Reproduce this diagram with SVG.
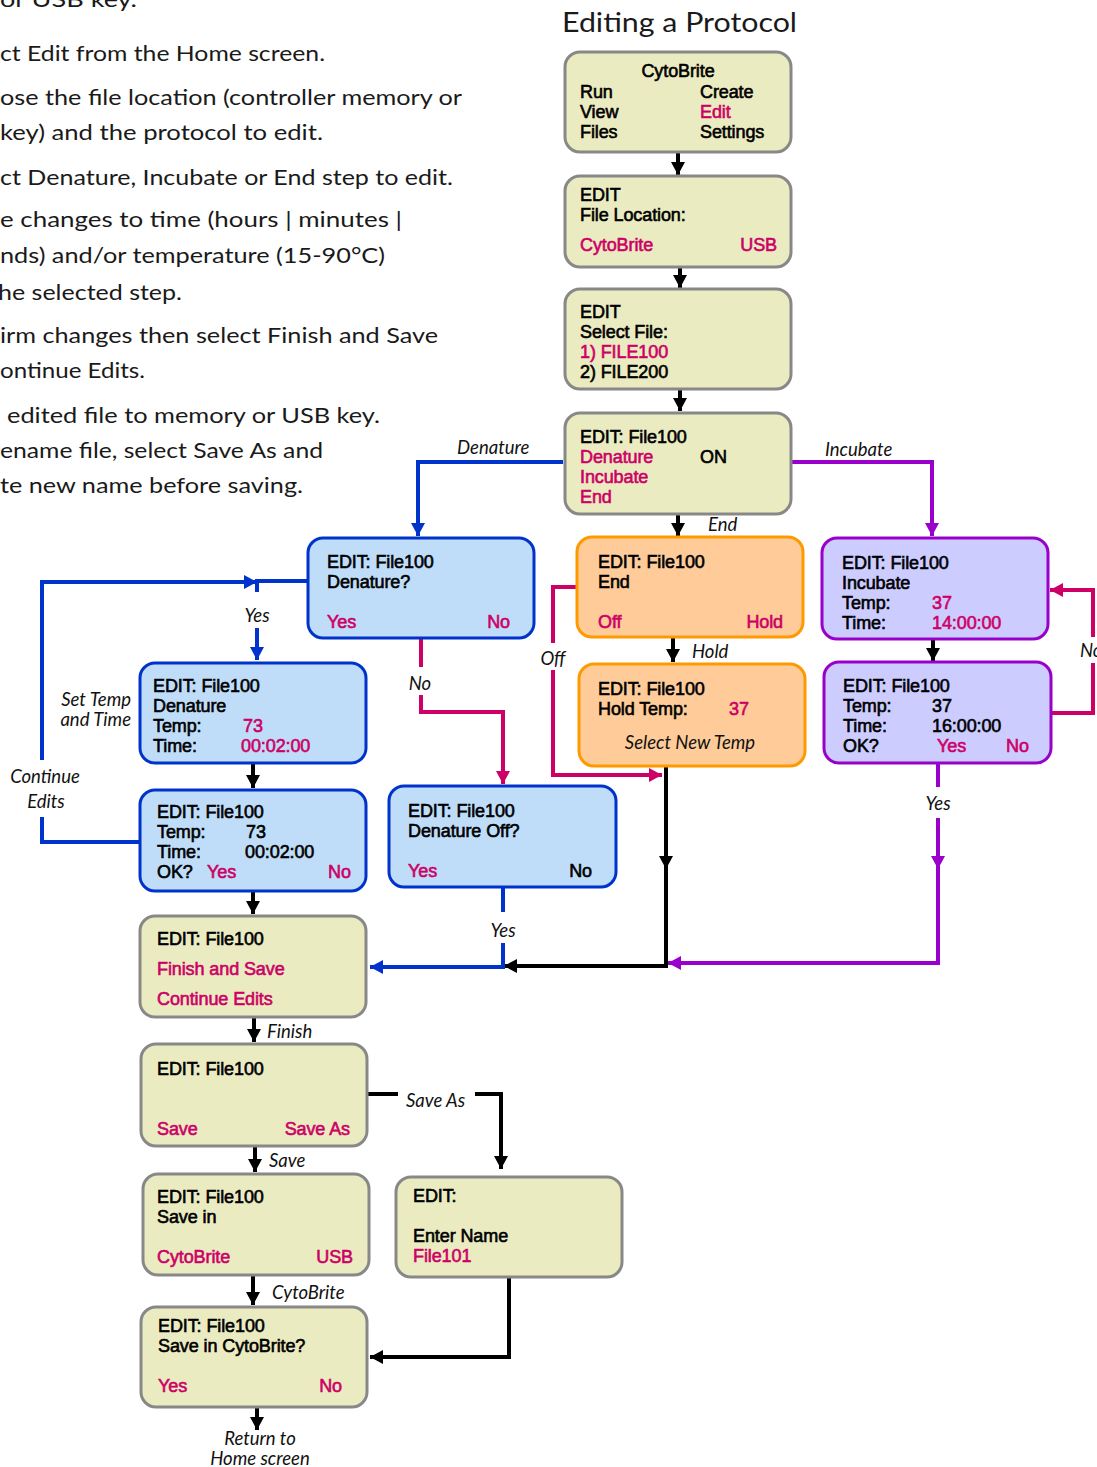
<svg xmlns="http://www.w3.org/2000/svg" width="1097" height="1467" viewBox="0 0 1097 1467">
<style>
.bg{fill:#fff}
.body{font-family:Lato,"Open Sans",sans-serif;font-size:21px;fill:#1a1a1a}
.title{font-family:Lato,"Open Sans",sans-serif;font-size:26px;fill:#1a1a1a}
.nt{font-family:"Liberation Sans",Arial,sans-serif;font-size:18px;fill:#000;stroke:#000;stroke-width:0.6;letter-spacing:-0.1px}
.pk{fill:#CC0066;stroke:#CC0066}
.it{font-family:Lato,"Open Sans",sans-serif;font-style:italic;font-size:18.5px;fill:#111}
.kh{fill:#EBEBC1;stroke:#888;stroke-width:3}
.bl{fill:#BFDDF8;stroke:#0033CC;stroke-width:3}
.or{fill:#FFCC99;stroke:#FF9900;stroke-width:3}
.pu{fill:#CCCCFF;stroke:#9900CC;stroke-width:3}
.c{fill:none;stroke-width:4}
.k{stroke:#000}.b{stroke:#0033CC}.p{stroke:#CC0066}.u{stroke:#9900CC}
.e{text-anchor:end}.m{text-anchor:middle}
</style>
<defs>
<marker id="ak" markerUnits="userSpaceOnUse" markerWidth="14" markerHeight="14" refX="13" refY="7" orient="auto"><path d="M0,0 L13,7 L0,14 z" fill="#000"/></marker>
<marker id="ab" markerUnits="userSpaceOnUse" markerWidth="14" markerHeight="14" refX="13" refY="7" orient="auto"><path d="M0,0 L13,7 L0,14 z" fill="#0033CC"/></marker>
<marker id="ap" markerUnits="userSpaceOnUse" markerWidth="14" markerHeight="14" refX="13" refY="7" orient="auto"><path d="M0,0 L13,7 L0,14 z" fill="#CC0066"/></marker>
<marker id="au" markerUnits="userSpaceOnUse" markerWidth="14" markerHeight="14" refX="13" refY="7" orient="auto"><path d="M0,0 L13,7 L0,14 z" fill="#9900CC"/></marker>
</defs>
<rect class="bg" x="0" y="0" width="1097" height="1467"/>

<g id="intro-text">
<text class="body" x="0" y="7" textLength="137" lengthAdjust="spacingAndGlyphs">or USB key.</text>
<text class="body" x="0" y="61" textLength="325" lengthAdjust="spacingAndGlyphs">ct Edit from the Home screen.</text>
<text class="body" x="0" y="105" textLength="462" lengthAdjust="spacingAndGlyphs">ose the file location (controller memory or</text>
<text class="body" x="0" y="140" textLength="323" lengthAdjust="spacingAndGlyphs">key) and the protocol to edit.</text>
<text class="body" x="0" y="185" textLength="453" lengthAdjust="spacingAndGlyphs">ct Denature, Incubate or End step to edit.</text>
<text class="body" x="0" y="227" textLength="402" lengthAdjust="spacingAndGlyphs">e changes to time (hours | minutes |</text>
<text class="body" x="0" y="263" textLength="385" lengthAdjust="spacingAndGlyphs">nds) and/or temperature (15-90°C)</text>
<text class="body" x="-2" y="300" textLength="184" lengthAdjust="spacingAndGlyphs">he selected step.</text>
<text class="body" x="0" y="343" textLength="438" lengthAdjust="spacingAndGlyphs">irm changes then select Finish and Save</text>
<text class="body" x="0" y="378" textLength="145" lengthAdjust="spacingAndGlyphs">ontinue Edits.</text>
<text class="body" x="7" y="423" textLength="373" lengthAdjust="spacingAndGlyphs">edited file to memory or USB key.</text>
<text class="body" x="0" y="458" textLength="323" lengthAdjust="spacingAndGlyphs">ename file, select Save As and</text>
<text class="body" x="0" y="493" textLength="303" lengthAdjust="spacingAndGlyphs">te new name before saving.</text>
<text class="title" x="562" y="32" textLength="235" lengthAdjust="spacingAndGlyphs">Editing a Protocol</text>
</g>

<g id="connectors">
<path class="c k" d="M678,153 V175" marker-end="url(#ak)"/>
<path class="c k" d="M680,268 V288" marker-end="url(#ak)"/>
<path class="c k" d="M680,390 V411" marker-end="url(#ak)"/>
<path class="c k" d="M678,515 V536" marker-end="url(#ak)"/>
<path class="c k" d="M673,638 V662" marker-end="url(#ak)"/>
<path class="c k" d="M933,640 V661" marker-end="url(#ak)"/>
<path class="c k" d="M253,763 V788" marker-end="url(#ak)"/>
<path class="c k" d="M253,892 V914" marker-end="url(#ak)"/>
<path class="c k" d="M254,1018 V1042" marker-end="url(#ak)"/>
<path class="c k" d="M255,1147 V1172" marker-end="url(#ak)"/>
<path class="c k" d="M253,1276 V1305" marker-end="url(#ak)"/>
<path class="c k" d="M257,1408 V1430" marker-end="url(#ak)"/>

<path class="c b" d="M563,462 H418 V536" marker-end="url(#ab)"/>
<path class="c u" d="M792,462 H932 V536" marker-end="url(#au)"/>
<path class="c b" d="M307,581 H257 V592"/>
<path class="c b" d="M257,628 V660" marker-end="url(#ab)"/>
<path class="c b" d="M139,842 H42 V817"/>
<path class="c b" d="M42,760 V582 H257" marker-end="url(#ab)"/>
<path class="c p" d="M421,638 V667"/>
<path class="c p" d="M421,695 V712 H503 V784" marker-end="url(#ap)"/>
<path class="c p" d="M576,587 H553 V643"/>
<path class="c p" d="M553,670 V775 H662" marker-end="url(#ap)"/>
<path class="c k" d="M666,767 V869" marker-end="url(#ak)"/>
<path class="c k" d="M666,860 V966 H504" marker-end="url(#ak)"/>
<path class="c u" d="M938,763 V787"/>
<path class="c u" d="M938,818 V869" marker-end="url(#au)"/>
<path class="c u" d="M938,860 V963 H668" marker-end="url(#au)"/>
<path class="c p" d="M1052,713 H1093 V663"/>
<path class="c p" d="M1093,637 V590 H1050" marker-end="url(#ap)"/>
<path class="c b" d="M503,888 V912"/>
<path class="c b" d="M503,943 V967 H370" marker-end="url(#ab)"/>
<path class="c k" d="M368,1094 H398"/>
<path class="c k" d="M475,1094 H501 V1169" marker-end="url(#ak)"/>
<path class="c k" d="M509,1278 V1357 H370" marker-end="url(#ak)"/>

<text class="it" x="457" y="454">Denature</text>
<text class="it" x="825" y="456">Incubate</text>
<text class="it" x="708" y="531">End</text>
<text class="it m" x="257" y="622">Yes</text>
<text class="it e" x="131" y="706">Set Temp</text>
<text class="it e" x="131" y="726">and Time</text>
<text class="it m" x="45" y="783">Continue</text>
<text class="it m" x="46" y="808">Edits</text>
<text class="it m" x="420" y="690">No</text>
<text class="it m" x="553" y="665">Off</text>
<text class="it" x="692" y="658">Hold</text>
<text class="it m" x="938" y="810">Yes</text>
<text class="it" x="1080" y="657">No</text>
<text class="it m" x="503" y="937">Yes</text>
<text class="it" x="267" y="1038">Finish</text>
<text class="it" x="406" y="1107">Save As</text>
<text class="it" x="269" y="1167">Save</text>
<text class="it" x="272" y="1299">CytoBrite</text>
<text class="it m" x="260" y="1445">Return to</text>
<text class="it m" x="260" y="1465">Home screen</text>
</g>

<g id="node-home">
<rect class="kh" x="565" y="52" width="226" height="100" rx="15"/>
<text class="nt m" x="678" y="77">CytoBrite</text>
<text class="nt" x="580" y="98">Run</text><text class="nt" x="700" y="98">Create</text>
<text class="nt" x="580" y="118">View</text><text class="nt pk" x="700" y="118">Edit</text>
<text class="nt" x="580" y="138">Files</text><text class="nt" x="700" y="138">Settings</text>
</g>

<g id="node-location">
<rect class="kh" x="565" y="176" width="226" height="91" rx="15"/>
<text class="nt" x="580" y="201">EDIT</text>
<text class="nt" x="580" y="221">File Location:</text>
<text class="nt pk" x="580" y="251">CytoBrite</text>
<text class="nt pk e" x="777" y="251">USB</text>
</g>

<g id="node-select-file">
<rect class="kh" x="565" y="289" width="226" height="100" rx="15"/>
<text class="nt" x="580" y="318">EDIT</text>
<text class="nt" x="580" y="338">Select File:</text>
<text class="nt pk" x="580" y="358">1) FILE100</text>
<text class="nt" x="580" y="378">2) FILE200</text>
</g>

<g id="node-steps">
<rect class="kh" x="565" y="413" width="226" height="101" rx="15"/>
<text class="nt" x="580" y="443">EDIT: File100</text>
<text class="nt pk" x="580" y="463">Denature</text><text class="nt" x="700" y="463">ON</text>
<text class="nt pk" x="580" y="483">Incubate</text>
<text class="nt pk" x="580" y="503">End</text>
</g>

<g id="node-denature-q">
<rect class="bl" x="308" y="538" width="226" height="100" rx="15"/>
<text class="nt" x="327" y="568">EDIT: File100</text>
<text class="nt" x="327" y="588">Denature?</text>
<text class="nt pk" x="327" y="628">Yes</text>
<text class="nt pk e" x="510" y="628">No</text>
</g>

<g id="node-end">
<rect class="or" x="577" y="537" width="226" height="100" rx="15"/>
<text class="nt" x="598" y="568">EDIT: File100</text>
<text class="nt" x="598" y="588">End</text>
<text class="nt pk" x="598" y="628">Off</text>
<text class="nt pk e" x="783" y="628">Hold</text>
</g>

<g id="node-incubate">
<rect class="pu" x="822" y="538" width="226" height="101" rx="15"/>
<text class="nt" x="842" y="569">EDIT: File100</text>
<text class="nt" x="842" y="589">Incubate</text>
<text class="nt" x="842" y="609">Temp:</text><text class="nt pk" x="932" y="609">37</text>
<text class="nt" x="842" y="629">Time:</text><text class="nt pk" x="932" y="629">14:00:00</text>
</g>

<g id="node-denature-set">
<rect class="bl" x="140" y="663" width="226" height="100" rx="15"/>
<text class="nt" x="153" y="692">EDIT: File100</text>
<text class="nt" x="153" y="712">Denature</text>
<text class="nt" x="153" y="732">Temp:</text><text class="nt pk" x="243" y="732">73</text>
<text class="nt" x="153" y="752">Time:</text><text class="nt pk" x="241" y="752">00:02:00</text>
</g>

<g id="node-hold">
<rect class="or" x="579" y="664" width="226" height="102" rx="15"/>
<text class="nt" x="598" y="695">EDIT: File100</text>
<text class="nt" x="598" y="715">Hold Temp:</text><text class="nt pk" x="729" y="715">37</text>
<text class="it m" x="690" y="749">Select New Temp</text>
</g>

<g id="node-incubate-ok">
<rect class="pu" x="824" y="662" width="227" height="101" rx="15"/>
<text class="nt" x="843" y="692">EDIT: File100</text>
<text class="nt" x="843" y="712">Temp:</text><text class="nt" x="932" y="712">37</text>
<text class="nt" x="843" y="732">Time:</text><text class="nt" x="932" y="732">16:00:00</text>
<text class="nt" x="843" y="752">OK?</text><text class="nt pk" x="937" y="752">Yes</text><text class="nt pk" x="1006" y="752">No</text>
</g>

<g id="node-denature-ok">
<rect class="bl" x="140" y="790" width="226" height="101" rx="15"/>
<text class="nt" x="157" y="818">EDIT: File100</text>
<text class="nt" x="157" y="838">Temp:</text><text class="nt" x="246" y="838">73</text>
<text class="nt" x="157" y="858">Time:</text><text class="nt" x="245" y="858">00:02:00</text>
<text class="nt" x="157" y="878">OK?</text><text class="nt pk" x="207" y="878">Yes</text><text class="nt pk" x="328" y="878">No</text>
</g>

<g id="node-denature-off">
<rect class="bl" x="389" y="786" width="227" height="101" rx="15"/>
<text class="nt" x="408" y="817">EDIT: File100</text>
<text class="nt" x="408" y="837">Denature Off?</text>
<text class="nt pk" x="408" y="877">Yes</text>
<text class="nt e" x="592" y="877">No</text>
</g>

<g id="node-finish">
<rect class="kh" x="140" y="916" width="226" height="101" rx="15"/>
<text class="nt" x="157" y="945">EDIT: File100</text>
<text class="nt pk" x="157" y="975">Finish and Save</text>
<text class="nt pk" x="157" y="1005">Continue Edits</text>
</g>

<g id="node-save">
<rect class="kh" x="141" y="1044" width="226" height="102" rx="15"/>
<text class="nt" x="157" y="1075">EDIT: File100</text>
<text class="nt pk" x="157" y="1135">Save</text>
<text class="nt pk e" x="350" y="1135">Save As</text>
</g>

<g id="node-save-in">
<rect class="kh" x="143" y="1174" width="226" height="101" rx="15"/>
<text class="nt" x="157" y="1203">EDIT: File100</text>
<text class="nt" x="157" y="1223">Save in</text>
<text class="nt pk" x="157" y="1263">CytoBrite</text>
<text class="nt pk e" x="353" y="1263">USB</text>
</g>

<g id="node-enter-name">
<rect class="kh" x="396" y="1177" width="226" height="100" rx="15"/>
<text class="nt" x="413" y="1202">EDIT:</text>
<text class="nt" x="413" y="1242">Enter Name</text>
<text class="nt pk" x="413" y="1262">File101</text>
</g>

<g id="node-confirm">
<rect class="kh" x="141" y="1307" width="226" height="100" rx="15"/>
<text class="nt" x="158" y="1332">EDIT: File100</text>
<text class="nt" x="158" y="1352">Save in CytoBrite?</text>
<text class="nt pk" x="158" y="1392">Yes</text>
<text class="nt pk e" x="342" y="1392">No</text>
</g>
</svg>
